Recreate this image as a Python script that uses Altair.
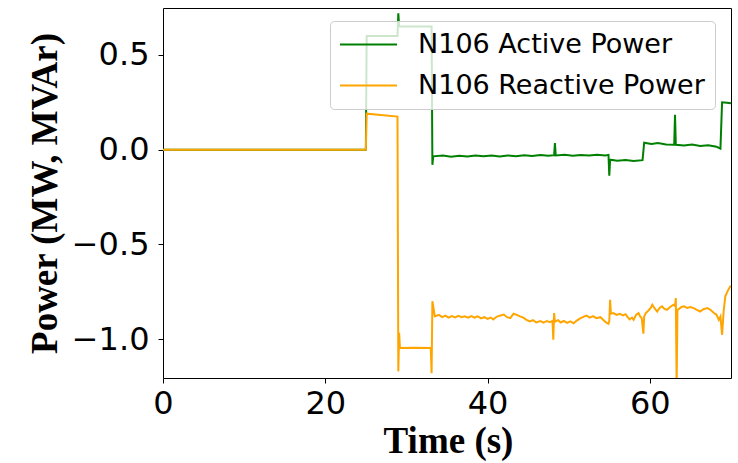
import altair as alt
import pandas as pd

# Series names
series_names = ["N106 Active Power", "N106 Reactive Power"]
series_colors = ["#008000", "#ffa500"]

# N106 Active Power (MW)
t_active = [0.0, 25.0, 25.1, 28.9, 29.0, 29.1, 33.1, 33.2, 33.3, 34.5, 35.5, 36.5, 37.5, 38.5,
            39.5, 40.5, 41.5, 42.5, 43.5, 44.5, 45.5, 46.5, 47.5, 48.2, 48.3, 48.4, 49.5,
            50.5, 51.5, 52.5, 53.5, 54.5, 54.9, 55.0, 55.1, 56.0, 57.0, 58.0, 59.1, 59.3,
            60.2, 61.0, 62.0, 63.0, 63.1, 63.2, 64.2, 65.2, 66.2, 67.2, 68.2, 68.7, 68.9,
            69.5, 70.0]
p_active = [0.0, 0.0, 0.60, 0.60, 0.72, 0.65, 0.65, -0.08, -0.035, -0.031, -0.037, -0.032, -0.036, -0.030,
            -0.035, -0.031, -0.036, -0.030, -0.034, -0.029, -0.033, -0.028, -0.032, -0.029, 0.035, -0.030, -0.027,
            -0.032, -0.028, -0.031, -0.027, -0.030, -0.027, -0.137, -0.053, -0.058, -0.054, -0.059, -0.055, 0.037,
            0.030, 0.035, 0.028, 0.026, 0.185, 0.026, 0.022, 0.027, 0.020, 0.024, 0.016, 0.005, 0.25,
            0.248, 0.245]

# N106 Reactive Power (MVAr)
t_reactive = [0.0, 25.0, 25.1, 28.9, 29.0, 29.1, 29.2, 31.0, 33.0, 33.1, 33.2,
              33.5, 34.0, 34.4, 34.8, 35.2, 35.6, 36.0, 36.4, 36.8, 37.2, 37.6, 38.0, 38.4, 38.8,
              39.2, 39.6, 40.0, 40.4, 40.7, 41.1, 41.5, 42.0, 42.4, 42.8, 43.2, 43.6, 44.0, 44.4,
              44.8, 45.2, 45.6, 46.0, 46.5, 46.9, 47.3, 47.7, 48.0, 48.1, 48.2, 48.3, 48.7, 49.0,
              49.4, 49.8, 50.2, 50.6, 51.0, 51.4, 51.8, 52.2, 52.6, 53.0, 53.4, 53.9, 54.3, 54.6,
              54.9, 55.0, 55.1, 55.2, 55.5, 55.9, 56.3, 56.7, 57.0, 57.2, 57.5, 57.8, 58.0, 58.3,
              58.6, 58.8, 59.0, 59.2, 59.3, 59.5, 59.8, 60.1, 60.3, 60.6, 60.9, 61.2, 61.5, 61.8,
              62.1, 62.5, 62.9, 63.1, 63.2, 63.3, 63.4, 63.6, 63.9, 64.2, 64.6, 65.0, 65.4, 65.8,
              66.2, 66.6, 67.1, 67.5, 67.9, 68.2, 68.5, 68.7, 68.9, 69.1, 69.3, 69.6, 69.9, 70.0]
p_reactive = [0.0, 0.0, 0.19, 0.175, -1.17, -0.966, -1.047, -1.045, -1.047, -1.18, -0.80,
              -0.880, -0.872, -0.884, -0.876, -0.886, -0.878, -0.885, -0.877, -0.884, -0.879, -0.887, -0.878, -0.886, -0.880,
              -0.890, -0.884, -0.893, -0.886, -0.896, -0.882, -0.876, -0.870, -0.884, -0.889, -0.866, -0.872, -0.880, -0.886,
              -0.898, -0.906, -0.900, -0.912, -0.905, -0.913, -0.904, -0.910, -0.903, -1.003, -0.862, -0.908, -0.900, -0.912,
              -0.904, -0.914, -0.906, -0.916, -0.902, -0.890, -0.882, -0.876, -0.886, -0.878, -0.889, -0.884, -0.900, -0.912,
              -0.919, -0.905, -0.792, -0.866, -0.862, -0.872, -0.866, -0.874, -0.868, -0.880, -0.896, -0.886, -0.898, -0.872,
              -0.862, -0.880, -0.889, -0.971, -0.880, -0.862, -0.850, -0.835, -0.818, -0.838, -0.854, -0.835, -0.827, -0.840,
              -0.845, -0.830, -0.818, -0.825, -0.783, -1.25, -0.845, -0.840, -0.830, -0.827, -0.835, -0.830, -0.836, -0.845,
              -0.854, -0.842, -0.836, -0.846, -0.862, -0.870, -0.898, -0.880, -0.977, -0.850, -0.774, -0.745, -0.722, -0.720]

rows = []
for i, (t, p) in enumerate(zip(t_active, p_active)):
    rows.append({"t": t, "p": p, "series": series_names[0], "i": i})
for i, (t, p) in enumerate(zip(t_reactive, p_reactive)):
    rows.append({"t": t, "p": p, "series": series_names[1], "i": i})
df = pd.DataFrame(rows)

chart = alt.Chart(df).mark_line(strokeWidth=2, clip=True).encode(
    x=alt.X("t:Q",
            scale=alt.Scale(domain=[0, 70], nice=False, zero=False),
            axis=alt.Axis(values=[0, 20, 40, 60], format="d", title="Time (s)",
                          grid=False, domain=False, tickSize=5, tickColor="black",
                          labelFont="DejaVu Sans", labelFontSize=32, labelColor="black",
                          labelPadding=5, labelFlush=False, labelOverlap=False,
                          titleFont="Liberation Serif", titleFontWeight="bold",
                          titleFontSize=37, titleColor="black",
                          titleX=285, titleY=74, titleBaseline="alphabetic")),
    y=alt.Y("p:Q",
            scale=alt.Scale(domain=[-1.205, 0.748], nice=False, zero=False),
            axis=alt.Axis(values=[-1.0, -0.5, 0.0, 0.5], format=".1f",
                          title="Power (MW, MVAr)",
                          grid=False, domain=False, tickSize=5, tickColor="black",
                          labelFont="DejaVu Sans", labelFontSize=32, labelColor="black",
                          labelPadding=9, labelFlush=False, labelOverlap=False,
                          titleFont="Liberation Serif", titleFontWeight="bold",
                          titleFontSize=37, titleColor="black",
                          titleX=-118, titleY=185, titleBaseline="middle", titleAlign="center")),
    color=alt.Color("series:N",
                    scale=alt.Scale(domain=series_names, range=series_colors),
                    legend=alt.Legend(title=None, orient="none", legendX=167, legendY=13,
                                      direction="vertical",
                                      symbolType="M-1.227,0H3.955", symbolSize=484,
                                      symbolStrokeWidth=2, labelOffset=51, labelLimit=500,
                                      labelFont="DejaVu Sans", labelFontSize=27,
                                      labelColor="black", padding=10, rowPadding=13,
                                      fillColor="rgba(255,255,255,0.8)",
                                      strokeColor="#cccccc", cornerRadius=4)),
    order=alt.Order("i:Q"),
).properties(
    width=568, height=370,
    autosize=alt.AutoSizeParams(type="none"),
    padding={"left": 163, "top": 8, "right": 7, "bottom": 85},
    background="white",
).configure_view(stroke="black", strokeWidth=1)

chart.save("out.html", embed_options={"renderer": "svg", "actions": False})
